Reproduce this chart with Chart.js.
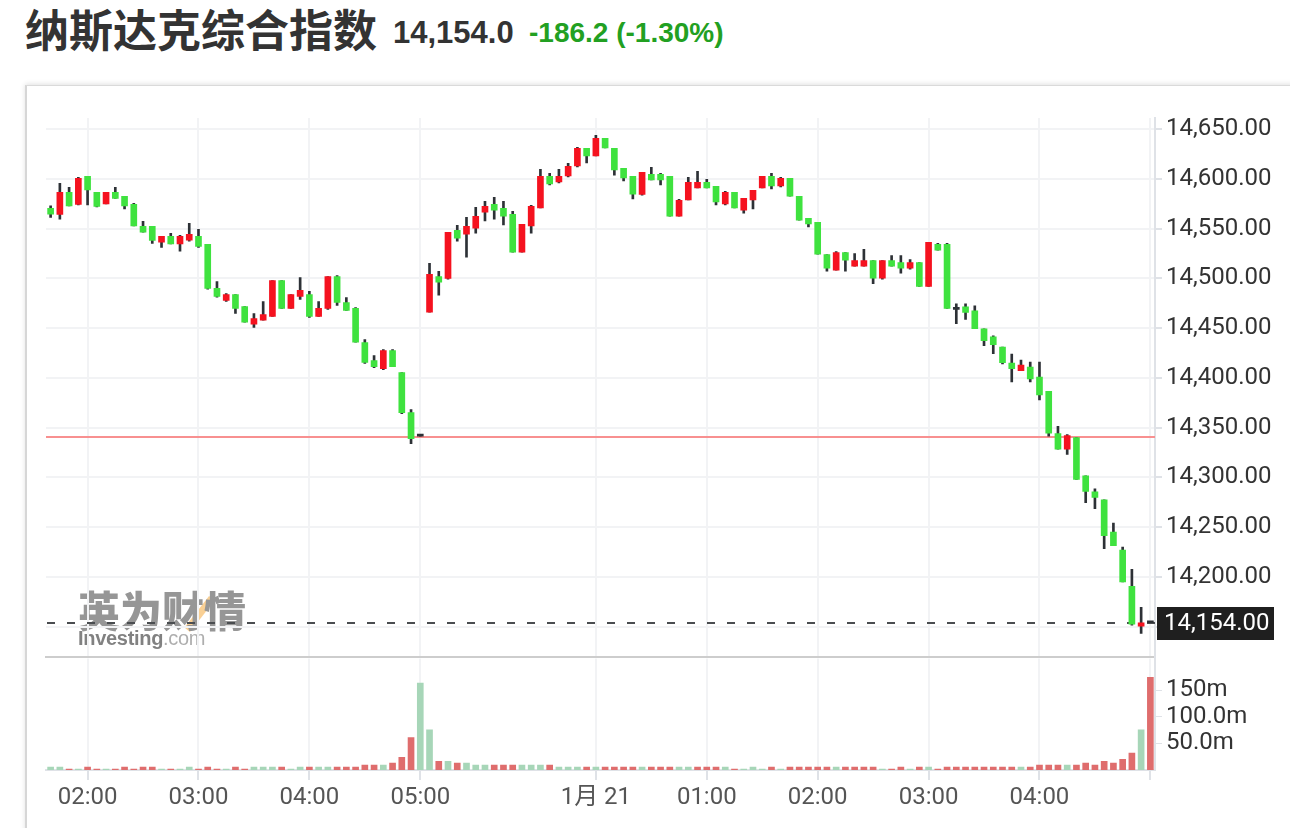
<!DOCTYPE html>
<html><head><meta charset="utf-8">
<script src="https://cdn.jsdelivr.net/npm/chart.js@4.4.1/dist/chart.umd.min.js"></script>
<style>
html,body{margin:0;padding:0;background:#fff;width:1290px;height:828px;overflow:hidden;}
.abs{position:absolute;white-space:nowrap;}
#card{position:absolute;left:25px;top:85px;width:1300px;height:800px;border-left:2px solid #d6d6d6;border-top:1px solid #dadada;box-shadow:0 -1px 5px rgba(0,0,0,0.12);background:#fff;}
canvas{position:absolute;left:0;}
</style></head><body>
<div id="card"></div>
<div class="abs" style="left:25px;top:6px;font:700 44px 'Noto Sans CJK SC';line-height:44px;color:#333;">纳斯达克综合指数</div>
<div class="abs" style="left:393px;top:17px;font:700 31px 'Liberation Sans';line-height:31px;color:#333;">14,154.0</div>
<div class="abs" style="left:529px;top:19px;font:700 28px 'Liberation Sans';line-height:28px;color:#22a022;">-186.2 (-1.30%)</div>
<div class="abs" style="left:78px;top:588px;opacity:0.75;filter:blur(0.7px);">
  <div style="position:absolute;left:118px;top:6px;width:7px;height:40px;background:#f5b04e;transform:rotate(38deg);opacity:.8"></div>
  <div style="position:relative;font:900 42px 'Noto Sans CJK SC';line-height:42px;color:#737373;">英为财情</div>
</div>
<div class="abs" style="left:78px;top:628px;font:700 20px 'Liberation Sans';line-height:20px;color:#6c6c6c;opacity:.85;filter:blur(0.4px);letter-spacing:-0.3px;">Investing<span style="font-weight:400;color:#a0a0a0">.com</span></div>
<canvas id="pc" width="1290" height="675" style="top:0"></canvas>
<canvas id="vc" width="1290" height="188" style="top:640px"></canvas>
<script>
// ---- categories (5-minute bars) ----
const times = ("01:40 01:45 01:50 01:55 02:00 02:05 02:10 02:15 02:20 02:25 02:30 02:35 02:40 02:45 02:50 02:55 " +
 "03:00 03:05 03:10 03:15 03:20 03:25 03:30 03:35 03:40 03:45 03:50 03:55 04:00 04:05 04:10 04:15 04:20 04:25 04:30 04:35 04:40 04:45 04:50 04:55 05:00 " +
 "22:30 22:35 22:40 22:45 22:50 22:55 23:00 23:05 23:10 23:15 23:20 23:25 23:30 23:35 23:40 23:45 23:50 23:55 " +
 "00:00 00:05 00:10 00:15 00:20 00:25 00:30 00:35 00:40 00:45 00:50 00:55 01:00 01:05 01:10 01:15 01:20 01:25 01:30 01:35 01:40 01:45 01:50 01:55 " +
 "02:00 02:05 02:10 02:15 02:20 02:25 02:30 02:35 02:40 02:45 02:50 02:55 03:00 03:05 03:10 03:15 03:20 03:25 03:30 03:35 03:40 03:45 03:50 03:55 " +
 "04:00 04:05 04:10 04:15 04:20 04:25 04:30 04:35 04:40 04:45 04:50 04:55 05:00").split(' ');

// ---- OHLC ----
const opens = [14570.2,14564.2,14586.3,14574.2,14602.4,14586.3,14574.6,14586.3,14582.3,14574.2,
14552.1,14552.1,14536.4,14542.1,14534.4,14538.4,14542.1,14534.0,14489.8,14477.7,
14483.7,14471.7,14453.9,14457.9,14461.6,14497.8,14469.7,14481.7,14483.7,14461.6,
14469.7,14501.8,14475.7,14469.7,14435.5,14417.4,14409.3,14427.4,14405.3,14365.1,
14341.5,14466.0,14501.8,14499.8,14548.1,14544.4,14550.4,14566.5,14574.2,14570.2,
14564.2,14526.3,14552.5,14570.6,14602.4,14596.7,14602.7,14612.8,14630.6,14622.8,
14640.6,14630.6,14610.4,14602.4,14584.3,14604.4,14604.4,14602.4,14562.5,14578.6,
14590.7,14596.4,14592.3,14574.6,14586.3,14568.5,14578.6,14590.7,14602.4,14592.7,
14600.4,14582.3,14560.2,14556.1,14523.9,14508.1,14525.9,14512.1,14512.1,14517.8,
14500.0,14517.8,14515.8,14510.1,14515.8,14491.9,14534.0,14534.0,14468.7,14471.4,
14467.3,14449.2,14441.1,14431.0,14414.8,14407.1,14410.8,14400.7,14386.5,14344.1,
14328.3,14340.1,14301.7,14285.5,14277.4,14245.1,14226.9,14190.6,14150.5,14154.0];
const highs = [14572.9,14595.4,14591.3,14601.4,14602.4,14586.3,14586.3,14591.3,14582.3,14575.3,
14557.1,14552.1,14542.1,14545.1,14543.1,14555.1,14549.1,14534.0,14496.8,14484.7,
14483.7,14471.7,14464.6,14476.7,14497.8,14497.8,14483.7,14500.8,14486.8,14476.7,
14501.8,14502.8,14480.7,14470.7,14438.5,14422.4,14428.4,14428.4,14405.3,14368.1,
14341.5,14514.9,14506.9,14546.1,14553.1,14561.2,14571.2,14577.3,14581.3,14577.3,
14567.2,14554.1,14573.2,14609.4,14605.4,14609.4,14615.5,14631.6,14630.6,14643.6,
14640.6,14630.6,14610.4,14602.4,14606.4,14611.5,14605.4,14602.4,14579.3,14601.4,
14607.4,14599.4,14592.3,14587.3,14586.3,14580.3,14588.3,14602.4,14605.4,14601.4,
14600.4,14582.3,14560.2,14556.1,14523.9,14526.9,14525.9,14524.9,14529.0,14517.8,
14517.8,14522.9,14522.9,14518.9,14515.8,14536.0,14535.0,14535.0,14474.4,14474.4,
14472.4,14449.2,14442.1,14431.0,14423.9,14417.8,14415.8,14415.8,14386.5,14351.2,
14343.1,14340.1,14301.7,14288.6,14277.4,14254.2,14230.0,14207.7,14169.4,14154.0];
const lows = [14561.2,14559.5,14572.6,14573.6,14573.6,14571.6,14574.6,14580.3,14569.6,14552.5,
14546.4,14535.0,14531.0,14534.4,14527.3,14537.4,14531.0,14489.1,14481.1,14476.7,
14464.6,14455.9,14450.6,14457.9,14461.6,14469.7,14469.7,14478.7,14460.6,14461.6,
14468.7,14472.7,14467.7,14435.8,14414.4,14410.3,14408.3,14411.3,14364.1,14333.9,
14341.5,14466.0,14483.1,14499.2,14537.4,14521.3,14545.4,14557.5,14559.5,14553.5,
14526.3,14526.3,14545.4,14570.6,14593.7,14595.7,14601.7,14611.8,14615.8,14622.8,
14630.9,14603.7,14597.7,14579.6,14583.6,14598.7,14593.7,14562.5,14562.5,14578.6,
14590.7,14590.7,14573.6,14573.6,14570.6,14565.5,14569.6,14590.7,14589.7,14591.7,
14582.6,14558.5,14551.5,14524.3,14507.1,14508.1,14507.1,14512.1,14512.1,14494.6,
14499.0,14512.1,14505.1,14509.1,14491.9,14491.9,14528.3,14469.7,14454.5,14458.6,
14449.5,14432.3,14424.2,14414.1,14396.0,14407.1,14396.0,14377.8,14341.4,14328.3,
14323.2,14298.0,14274.7,14268.7,14228.3,14231.3,14195.0,14151.5,14143.4,14154.0];
const closes = [14564.5,14586.3,14572.6,14600.4,14588.7,14572.2,14586.3,14580.3,14572.6,14552.5,
14546.4,14538.0,14542.1,14534.4,14542.1,14544.1,14532.0,14489.8,14481.7,14483.7,
14469.7,14455.9,14459.6,14463.6,14497.8,14469.7,14483.7,14487.8,14461.6,14469.7,
14501.8,14475.7,14467.7,14435.8,14415.4,14411.3,14427.4,14411.3,14365.1,14338.9,
14341.5,14503.9,14496.1,14546.1,14540.4,14552.1,14562.2,14572.2,14568.5,14562.5,
14526.3,14554.1,14572.2,14602.4,14594.7,14602.4,14612.5,14630.6,14622.8,14640.6,
14630.9,14608.8,14600.7,14584.6,14606.4,14598.7,14598.7,14562.5,14578.3,14596.4,
14596.4,14590.7,14576.6,14586.3,14570.6,14580.3,14588.3,14602.4,14592.7,14600.4,
14582.6,14558.5,14554.5,14524.3,14510.1,14525.9,14518.2,14517.8,14517.8,14500.0,
14517.8,14512.1,14510.1,14515.8,14491.9,14536.0,14528.3,14469.7,14468.7,14465.7,
14449.5,14437.4,14433.3,14415.2,14409.1,14412.8,14399.0,14382.8,14344.4,14328.3,
14342.1,14298.0,14285.9,14279.8,14241.4,14231.3,14195.0,14152.5,14154.0,14154.0];

// ---- volume (millions) ----
const volumes = [5.5,5.5,1.8,1.8,5.5,1.8,1.8,1.8,5.5,1.8,
5.5,5.5,1.8,1.8,1.8,5.5,1.8,5.5,1.8,1.8,
5.5,1.8,5.5,5.5,5.5,5.5,1.8,5.5,5.5,5.5,
5.5,5.5,5.5,5.5,9.2,9.2,9.2,12.9,23.9,61,
163.6,75.4,16.5,16.5,12.9,12.9,9.2,9.2,9.2,9.2,
9.2,9.2,9.2,9.2,9.2,5.5,5.5,5.5,5.5,5.5,
5.5,5.5,5.5,5.5,5.5,5.5,5.5,5.5,5.5,5.5,
5.5,5.5,5.5,5.5,1.8,1.8,5.5,1.8,5.5,1.8,
5.5,5.5,5.5,5.5,5.5,5.5,5.5,5.5,5.5,5.5,
1.8,1.8,5.5,1.8,5.5,5.5,1.8,5.5,5.5,5.5,
5.5,5.5,5.5,5.5,5.5,5.5,5.5,9.2,9.2,9.2,
9.2,9.2,12.9,9.2,16.5,12.9,20.2,31.8,75.4,174.6];

// ---- tick labels ----
const priceTicks = [14150,14200,14250,14300,14350,14400,14450,14500,14550,14600,14650];
const volTicks = [50,100,150];
const volTickText = ['50.0m','100.0m','150m'];
const xTickIndex = [4,16,28,40,59,71,83,95,107,119];
const xTickText = ['02:00','03:00','04:00','05:00','1月 21','01:00','02:00','03:00','04:00',''];
const prevClose = 14340.2;
const lastPrice = 14154.0;

// ---- derived ----
const RED = '#f5121f', GREEN = '#3fe23f', WICK = '#2d3136';
const bodies = opens.map((o,i)=>[o, closes[i]]);
const wicks = lows.map((l,i)=>[l, highs[i]]);
const bodyColors = opens.map((o,i)=> closes[i]>o ? RED : (closes[i]<o ? GREEN : WICK));
const volColors = closes.map((c,i)=> (i===0 || c>closes[i-1]) ? '#a7d6b8' : '#df6d6d');
const isLabeled = i => xTickIndex.indexOf(i) >= 0;
const xLabel = i => { const k = xTickIndex.indexOf(i); return k<0 ? '' : xTickText[k]; };
const fmtPrice = v => v.toLocaleString('en-US',{minimumFractionDigits:2, maximumFractionDigits:2});
const GRID = '#f2f3f5', AXIS = '#dfe2e7';
const FONT = "Roboto, 'Noto Sans CJK SC', sans-serif";

const refLines = {
  id:'refLines',
  beforeDatasetsDraw(chart){
    const {ctx, chartArea:a, scales:{y}} = chart;
    ctx.save();
    const yr = Math.round(y.getPixelForValue(prevClose));
    ctx.strokeStyle='#f89090'; ctx.lineWidth=2;
    ctx.beginPath(); ctx.moveTo(a.left,yr); ctx.lineTo(a.right,yr); ctx.stroke();
    const yl = Math.round(y.getPixelForValue(lastPrice));
    ctx.strokeStyle='#4a4d50'; ctx.lineWidth=2; ctx.setLineDash([8,12]);
    ctx.beginPath(); ctx.moveTo(a.left+1,yl); ctx.lineTo(a.right,yl); ctx.stroke();
    ctx.restore();
  },
  afterDraw(chart){
    const {ctx, chartArea:a, scales:{y}} = chart;
    const yl = Math.round(y.getPixelForValue(lastPrice));
    ctx.save();
    ctx.fillStyle='#1f1f1f';
    ctx.fillRect(a.right+2, yl-16, 117, 33);
    ctx.fillStyle='#fff'; ctx.font="24px "+FONT; ctx.textBaseline='middle'; ctx.textAlign='left';
    ctx.fillText(fmtPrice(lastPrice), a.right+9, yl+1);
    ctx.restore();
  }
};

new Chart(document.getElementById('pc'), {
  type:'bar',
  data:{ labels: times, datasets:[
    { label:'body', data: bodies, backgroundColor: bodyColors, barThickness:6, grouped:false, order:0, minBarLength:2 },
    { label:'wick', data: wicks, backgroundColor: WICK, barThickness:2, grouped:false, order:1 }
  ]},
  options:{
    responsive:false, animation:false, events:[],
    layout:{padding:{left:46, top:118, right:0, bottom:5.5}},
    plugins:{legend:{display:false}, tooltip:{enabled:false}},
    scales:{
      x:{ offset:true,
          grid:{offset:false, lineWidth:2, drawTicks:false, color: c => isLabeled(c.index) ? GRID : 'rgba(0,0,0,0)'},
          ticks:{display:false, autoSkip:false, maxRotation:0, minRotation:0},
          border:{display:true, color:'#cdcdcd', width:2},
          afterFit: s => { s.height = 0; } },
      y:{ position:'right', min:14120, max:14661,
          afterBuildTicks: s => { s.ticks = priceTicks.map(v=>({value:v})); },
          ticks:{ callback: v => v===14150 ? '' : fmtPrice(v), color:'#333', font:{family:FONT, size:24}, padding:4 },
          grid:{ color:GRID, lineWidth:2, tickColor:AXIS, tickLength:7 },
          border:{ color:AXIS, width:2 },
          afterFit: s => { s.width = 135; } }
    }
  },
  plugins:[refLines]
});

new Chart(document.getElementById('vc'), {
  type:'bar',
  data:{ labels: times, datasets:[
    { label:'volume', data: volumes, backgroundColor: volColors, barThickness:6 }
  ]},
  options:{
    responsive:false, animation:false, events:[],
    layout:{padding:{left:46, top:16, right:0, bottom:0}},
    plugins:{legend:{display:false}, tooltip:{enabled:false}},
    scales:{
      x:{ offset:true,
          grid:{offset:false, lineWidth:2, tickLength:10,
                color: c => isLabeled(c.index) ? GRID : 'rgba(0,0,0,0)',
                tickColor: c => isLabeled(c.index) ? AXIS : 'rgba(0,0,0,0)'},
          ticks:{autoSkip:false, maxRotation:0, minRotation:0, callback:(v,i)=>xLabel(i), color:'#555', font:{family:FONT, size:24}, padding:4},
          border:{color:AXIS, width:2},
          afterFit: s => { s.height = 58; } },
      y:{ position:'right', min:0, max:210,
          afterBuildTicks: s => { s.ticks = volTicks.map(v=>({value:v})); },
          ticks:{ callback: v => volTickText[volTicks.indexOf(v)], color:'#333', font:{family:FONT, size:24}, padding:4 },
          grid:{ drawOnChartArea:false, tickColor:AXIS, tickLength:7 },
          border:{ color:AXIS, width:2 },
          afterFit: s => { s.width = 135; } }
    }
  }
});
</script>
</body></html>
